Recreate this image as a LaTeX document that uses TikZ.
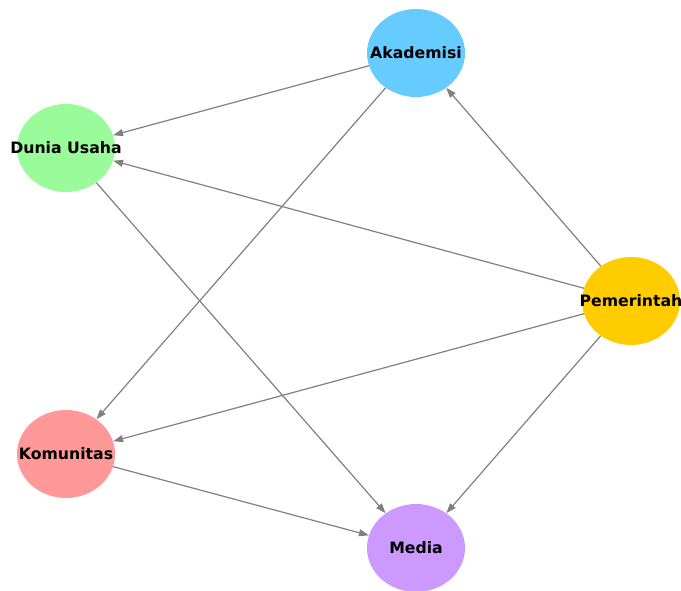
\documentclass[tikz,border=0pt]{standalone}
\usepackage{fontspec}
\setmainfont{DejaVu Sans}
\usetikzlibrary{shapes.geometric,arrows.meta}
\definecolor{akadblue}{HTML}{66CCFF}
\definecolor{usahagreen}{HTML}{99FB99}
\definecolor{pemergold}{HTML}{FFCC00}
\definecolor{komunred}{HTML}{FF9999}
\definecolor{mediapurple}{HTML}{CC99FF}
\begin{document}
\begin{tikzpicture}[x=1pt,y=1pt,
  actor/.style={ellipse, minimum width=98pt, minimum height=88pt, inner sep=0pt},
  tag/.style={font=\fontsize{15.7}{18}\selectfont\bfseries, text=black},
  link/.style={draw, line width=1.2pt, color=gray, -{Triangle[length=10pt,width=7pt]}}]
\useasboundingbox (0,0) rectangle (681,590);
\node[actor, fill=akadblue, label={[tag]center:Akademisi}] (1) at (416,537) {};
\node[actor, fill=usahagreen, label={[tag]center:Dunia Usaha}] (2) at (66,442) {};
\node[actor, fill=pemergold, label={[tag]center:Pemerintah}] (3) at (631,289) {};
\node[actor, fill=komunred, label={[tag]center:Komunitas}] (4) at (66,136) {};
\node[actor, fill=mediapurple, label={[tag]center:Media}] (5) at (416,42) {};
\path[link] (1) -- (2);
\path[link] (1) -- (4);
\path[link] (2) -- (5);
\path[link] (3) -- (1);
\path[link] (3) -- (2);
\path[link] (3) -- (4);
\path[link] (3) -- (5);
\path[link] (4) -- (5);
\end{tikzpicture}
\end{document}
